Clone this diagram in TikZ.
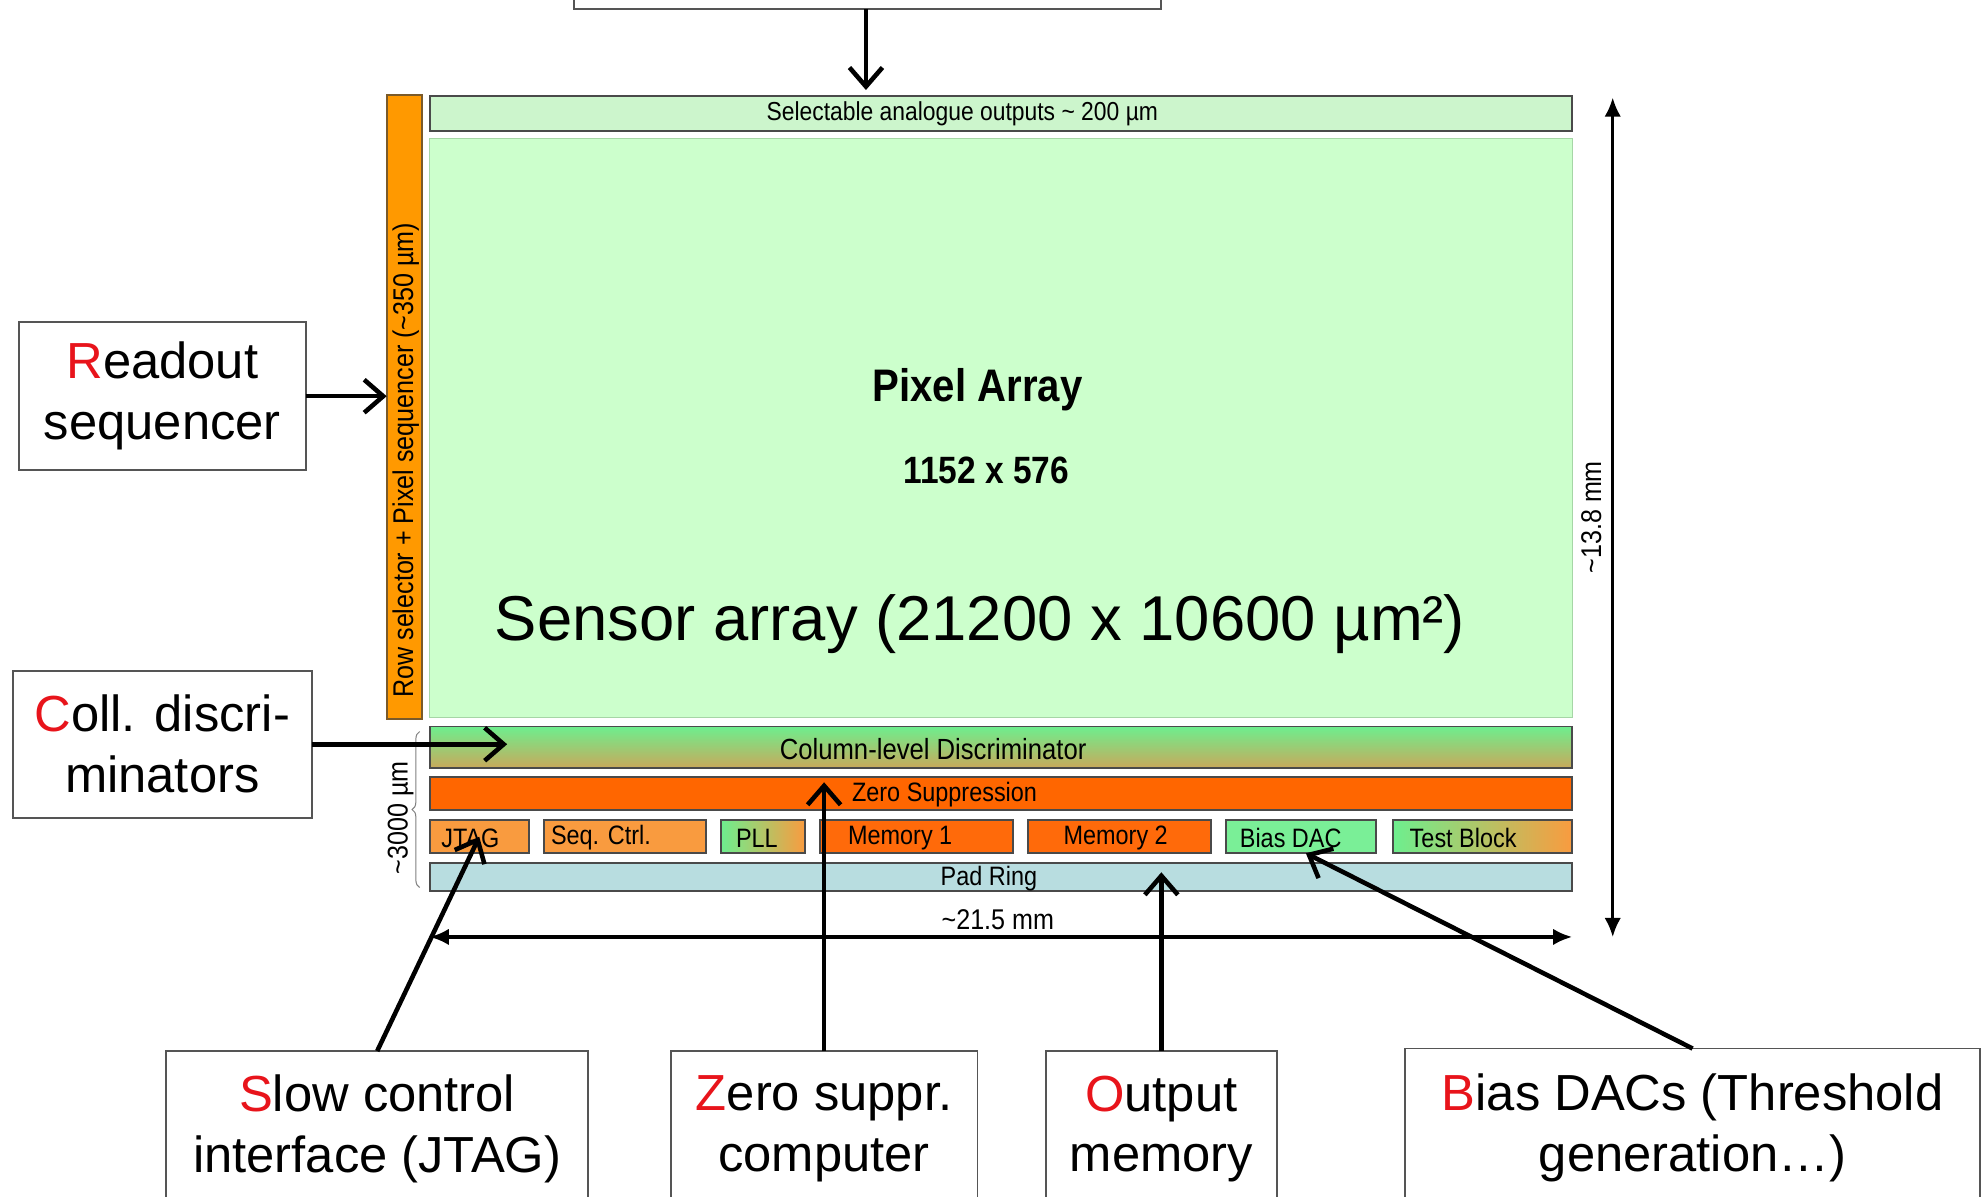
\documentclass[tikz,border=0pt]{standalone}
\usepackage{fontspec}
\usepackage{graphicx}
\setmainfont{Liberation Sans}
\newfontfamily\narrowfont[FakeStretch=0.88]{Liberation Sans}
\usetikzlibrary{arrows.meta,decorations.pathreplacing,calc}
\definecolor{boxgray}{HTML}{555555}
\definecolor{blkborder}{HTML}{4A4A4A}
\definecolor{pixgreen}{HTML}{CCFFCC}
\definecolor{pixborder}{HTML}{A6D6A6}
\definecolor{selgreen}{HTML}{CCF5CC}
\definecolor{rowor}{HTML}{FF9900}
\definecolor{rowborder}{HTML}{7A5A2A}
\definecolor{zsor}{HTML}{FF6600}
\definecolor{lightor}{HTML}{F99B3F}
\definecolor{memor}{HTML}{FF6A0A}
\definecolor{brgreen}{HTML}{6EEE8E}
\definecolor{olive}{HTML}{C9A85A}
\definecolor{padblue}{HTML}{B8DDE0}
\definecolor{hired}{HTML}{E8141B}
\begin{document}
\begin{tikzpicture}[x=1pt,y=-1pt,
  callout/.style={draw=boxgray, line width=1.5pt, fill=white, inner sep=0pt, outer sep=0pt,
    font=\fontsize{40}{48}\selectfont, align=center},
  blk/.style={draw=blkborder, line width=1.5pt, inner sep=0pt, outer sep=0pt},
  blktxt/.style={font=\narrowfont\fontsize{21}{24}\selectfont, inner sep=0pt},
  dimtxt/.style={font=\narrowfont\fontsize{22.5}{26}\selectfont, inner sep=0pt},
  arr/.style={line width=3.6pt, -{Straight Barb[length=15pt,width=26pt]}},
  dimarr/.style={line width=2.6pt, {Latex[length=15pt,width=13pt]}-{Latex[length=15pt,width=13pt]}}
]
\clip (0,0) rectangle (1568,944);
\fill[white] (0,0) rectangle (1568,944);

% top (cut) box
\node[callout, minimum width=463pt, minimum height=67pt] (topbox) at (684.5,-26.5) {};
\coordinate (toptip) at (683,71);
\draw[arr] (topbox.south -| toptip) -- (toptip);

% row selector bar
\node[blk, draw=rowborder, fill=rowor, minimum width=28pt, minimum height=492pt] (rowsel) at (319,321) {};
\node[dimtxt, rotate=90] (rowseltxt) at (320,363) {Row selector + Pixel sequencer (\textasciitilde350 µm)};

% selectable outputs
\node[blk, fill=selgreen, minimum width=901pt, minimum height=27pt] (sel) at (789.5,89.5) {};
\node[blktxt, font=\narrowfont\fontsize{20.5}{24}\selectfont] (seltxt) at (759,89.5) {Selectable analogue outputs \textasciitilde{} 200 µm};

% pixel array
\node[draw=pixborder, line width=1pt, fill=pixgreen, inner sep=0pt, outer sep=0pt,
  minimum width=901pt, minimum height=457pt] (pix) at (789.5,337.5) {};
\node[font=\narrowfont\bfseries\fontsize{36}{40}\selectfont, inner sep=0pt] (pixtxt) at (771,307) {Pixel Array};
\node[font=\narrowfont\bfseries\fontsize{30}{34}\selectfont, inner sep=0pt] (dimpix) at (778,371) {1152 x 576};
\node[font=\fontsize{50}{56}\selectfont, inner sep=0pt] (sensor) at (773,492) {Sensor array (21200 x 10600 µm²)};

% column-level discriminator
\node[blk, top color=brgreen, bottom color=olive, minimum width=901pt, minimum height=33pt] (col) at (789.5,589.5) {};
\node[blktxt, font=\narrowfont\fontsize{23}{26}\selectfont] (coltxt) at (736,591) {Column-level Discriminator};

% zero suppression
\node[blk, fill=zsor, minimum width=901pt, minimum height=26pt] (zs) at (789.5,626) {};
\node[blktxt] (zstxt) at (745,627) {Zero Suppression};

% small blocks
\node[blk, fill=lightor, minimum width=78pt, minimum height=26pt] (jtag) at (378,660) {};
\node[blktxt] (jtagtxt) at (371,661) {JTAG};
\node[blk, fill=lightor, minimum width=128pt, minimum height=26pt] (seq) at (493,660) {};
\node[blktxt] (seqtxt) at (474,661) {Seq. Ctrl.};
\node[blk, left color=brgreen, right color=lightor, minimum width=66pt, minimum height=26pt] (pll) at (602,660) {};
\node[blktxt] (plltxt) at (597,661) {PLL};
\node[blk, fill=memor, minimum width=152pt, minimum height=26pt] (mem1) at (723,660) {};
\node[blktxt] (mem1txt) at (710,661) {Memory 1};
\node[blk, fill=memor, minimum width=144pt, minimum height=26pt] (mem2) at (883,660) {};
\node[blktxt] (mem2txt) at (880,661) {Memory 2};
\node[blk, fill=brgreen!92!white, minimum width=118pt, minimum height=26pt] (bias) at (1026,660) {};
\node[blktxt] (biastxt) at (1018,661) {Bias DAC};
\node[blk, left color=brgreen, right color=lightor, minimum width=141pt, minimum height=26pt] (test) at (1169.5,660) {};
\node[blktxt] (testtxt) at (1154,661) {Test Block};

% pad ring
\node[blk, fill=padblue, minimum width=901pt, minimum height=22pt] (pad) at (789.5,692) {};
\node[blktxt] (padtxt) at (780,693) {Pad Ring};

% dimensions
\coordinate (h1) at (339,739);
\coordinate (h2) at (1240,739);
\draw[dimarr] (h1) -- (h2);
\node[dimtxt] (htxt) at (787,725) {\textasciitilde21.5 mm};
\coordinate (v1) at (1272,77);
\coordinate (v2) at (1272,739);
\draw[dimarr, line width=2.2pt] (v1) -- (v2);
\node[dimtxt, rotate=90] (vtxt) at (1255,408) {\textasciitilde13.8 mm};
\coordinate (b1) at (331,700);
\coordinate (b2) at (331,577);
\draw[gray, line width=0.8pt, decorate, decoration={brace, amplitude=6pt}] (b1) -- (b2);
\node[dimtxt, rotate=90] (btxt) at (316,645) {\textasciitilde3000 µm};

% left callouts
\node[callout, minimum width=226pt, minimum height=117pt] (rs) at (128,312.5)
  {{\color{hired}R}eadout\\sequencer};
\draw[arr] (rs.east) -- (rs.east -| rowsel.west);
\node[callout, minimum width=236pt, minimum height=116pt] (cd) at (128,587)
  {{\color{hired}C}oll. discri-\\minators};
\coordinate (cdtip) at (400,587);
\draw[arr] (cd.east) -- (cdtip);

% bottom callouts
\node[callout, minimum width=333pt, minimum height=123pt] (sc) at (297.5,890.5)
  {{\color{hired}S}low control\\interface (JTAG)};
\draw[arr] (sc.north) -- (jtag.center);
\node[callout, minimum width=242pt, minimum height=123pt] (zc) at (650,890.5)
  {{\color{hired}Z}ero suppr.\\computer};
\coordinate (zstip) at (650,617);
\draw[arr] (zc.north) -- (zstip);
\node[callout, minimum width=182pt, minimum height=123pt] (om) at (916,890.5)
  {{\color{hired}O}utput\\memory};
\coordinate (omtip) at (916,688);
\draw[arr] (om.north) -- (omtip);
\node[callout, minimum width=454pt, minimum height=125pt] (bd) at (1335,889.5)
  {{\color{hired}B}ias DACs (Threshold\\generation…)};
\coordinate (biastip) at (1030,673);
\draw[arr] (bd.north) -- (biastip);
\end{tikzpicture}
\end{document}
